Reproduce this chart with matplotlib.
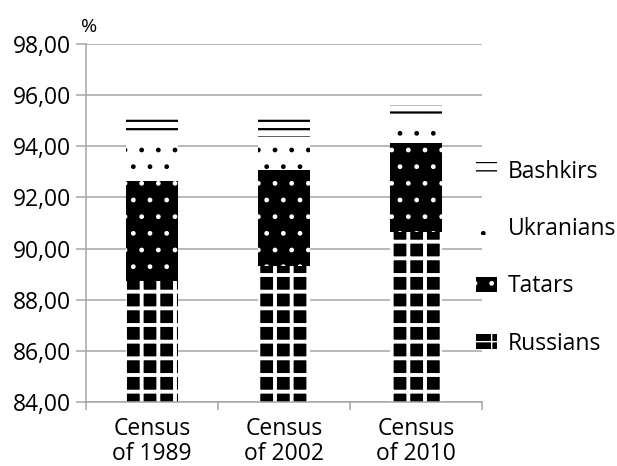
import numpy as np
import matplotlib
import matplotlib.pyplot as plt

plt.rcParams['font.family'] = ['Open Sans', 'DejaVu Sans']

censuses = ['Census\nof 1989', 'Census\nof 2002', 'Census\nof 2010']
russians = [88.75, 89.30, 90.65]
tatars = [3.88, 3.77, 3.47]
ukranians = [1.77, 1.30, 0.95]
bashkirs = [0.82, 0.75, 0.55]
y_ticks = [84, 86, 88, 90, 92, 94, 96, 98]

grey = '#a6a6a6'
fs = 16.5


def set_hatch_lw(bars, lw):
    for b in bars:
        if hasattr(b, 'set_hatch_linewidth'):
            b.set_hatch_linewidth(lw)


fig = plt.figure(figsize=(6.17, 4.66), dpi=100)
ax = fig.add_axes([86 / 617, 1 - 402 / 466, 396 / 617, 358 / 466])

x = np.arange(len(censuses))
w = 0.4
r = np.array(russians)
t = np.array(tatars)
u = np.array(ukranians)
b = np.array(bashkirs)

with plt.rc_context({'hatch.linewidth': 2.8}):
    b_rus = ax.bar(x, r, w, color='black', edgecolor='white', linewidth=0,
                   hatch='+', label='Russians')
set_hatch_lw(b_rus, 2.8)
with plt.rc_context({'hatch.linewidth': 1.0}):
    b_tat = ax.bar(x, t, w, bottom=r, color='black', edgecolor='white',
                   linewidth=0, hatch='.', label='Tatars')
    b_ukr = ax.bar(x, u, w, bottom=r + t, color='white', edgecolor='black',
                   linewidth=0, hatch='.', label='Ukranians')
set_hatch_lw(b_tat, 1.0)
set_hatch_lw(b_ukr, 1.0)
with plt.rc_context({'hatch.linewidth': 1.6}):
    b_bash = ax.bar(x, b, w, bottom=r + t + u, color='white', edgecolor='black',
                    linewidth=0, hatch='--', label='Bashkirs')
set_hatch_lw(b_bash, 1.6)

ax.set_ylim(84, 98)
ax.set_xlim(-0.5, 2.5)
ax.set_yticks(y_ticks)
ax.set_yticklabels([f'{v:.2f}'.replace('.', ',') for v in y_ticks])
ax.yaxis.grid(True, color=grey, linewidth=1.1)
ax.set_axisbelow(True)

ax.set_xticks([-0.5, 0.5, 1.5, 2.5])
ax.set_xticklabels([])
ax.set_xticks(x, censuses, minor=True)
ax.tick_params(axis='x', which='major', length=6, width=1.1, color=grey)
ax.tick_params(axis='x', which='minor', length=0, pad=11, labelsize=fs)
for lab in ax.get_xticklabels(minor=True):
    lab.set_linespacing(1.05)
ax.tick_params(axis='y', length=7, width=1.1, color=grey, pad=4, labelsize=fs)

for side in ['top', 'right']:
    ax.spines[side].set_visible(False)
for side in ['left', 'bottom']:
    ax.spines[side].set_color(grey)
    ax.spines[side].set_linewidth(1.1)

fig.text(89 / 617, 1 - 27 / 466, '%', ha='center', va='center', fontsize=14)

fig.legend([b_bash, b_ukr, b_tat, b_rus], ['Bashkirs', 'Ukranians', 'Tatars', 'Russians'],
           loc='upper left', bbox_to_anchor=(476 / 617, 1 - 160 / 466),
           frameon=False, fontsize=fs, handlelength=0.9, handleheight=0.65,
           handletextpad=0.5, labelspacing=1.45, borderpad=0, borderaxespad=0)

fig.savefig('out.png', dpi=100)
